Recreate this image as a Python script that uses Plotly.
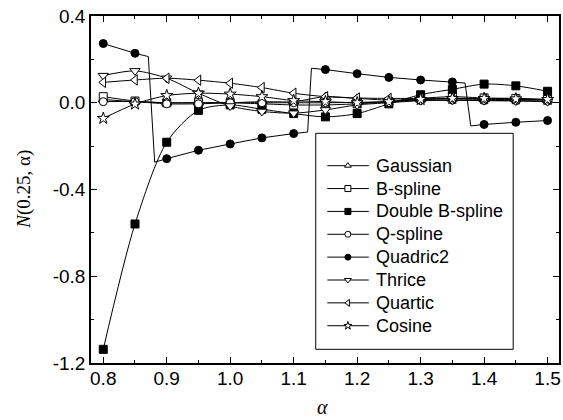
import plotly.graph_objects as go

alpha = [0.8, 0.85, 0.9, 0.95, 1.0, 1.05, 1.1, 1.15, 1.2, 1.25, 1.3, 1.35, 1.4, 1.45, 1.5]

gaussian = [0.015, 0.005, 0.0, 0.0, 0.0, 0.005, 0.005, 0.028, 0.02, 0.012, 0.015, 0.018, 0.015, 0.015, 0.012]
bspline = [0.028, 0.008, 0.0, 0.0, 0.0, -0.005, -0.01, -0.01, -0.005, 0.005, 0.02, 0.028, 0.022, 0.02, 0.015]
double_bspline = [-1.137, -0.559, -0.182, -0.035, -0.01, -0.03, -0.05, -0.065, -0.05, -0.005, 0.037, 0.062, 0.086, 0.078, 0.053]
qspline = [0.005, 0.005, -0.005, -0.005, 0.0, 0.0, 0.0, 0.0, 0.002, 0.005, 0.01, 0.012, 0.01, 0.01, 0.008]
quadric2 = [0.273, 0.228, -0.258, -0.219, -0.190, -0.162, -0.142, 0.153, 0.134, 0.117, 0.105, 0.096, -0.1, -0.09, -0.082]
thrice = [0.125, 0.147, 0.113, 0.044, -0.015, -0.04, -0.048, -0.033, -0.01, 0.0, 0.01, 0.012, 0.01, 0.008, 0.005]
quartic = [0.094, 0.105, 0.113, 0.104, 0.090, 0.070, 0.044, 0.028, 0.022, 0.02, 0.02, 0.02, 0.018, 0.016, 0.015]
cosine = [-0.072, -0.006, 0.033, 0.044, 0.04, 0.028, 0.01, 0.005, 0.0, 0.005, 0.015, 0.02, 0.02, 0.018, 0.015]

# Quadric2 connecting line (includes the jump segments)
quadric2_line_x = [0.8, 0.85, 0.871, 0.881, 0.9, 0.95, 1.0, 1.05, 1.1, 1.122, 1.128, 1.15, 1.2, 1.25, 1.3, 1.35, 1.370, 1.379, 1.4, 1.45, 1.5]
quadric2_line_y = [0.273, 0.228, 0.213, -0.274, -0.258, -0.219, -0.190, -0.162, -0.142, -0.135, 0.159, 0.153, 0.134, 0.117, 0.105, 0.096, 0.091, -0.107, -0.1, -0.09, -0.082]

names = ["Gaussian", "B-spline", "Double B-spline", "Q-spline", "Quadric2", "Thrice", "Quartic", "Cosine"]
series = [gaussian, bspline, double_bspline, qspline, quadric2, thrice, quartic, cosine]
symbols = ["triangle-up", "square", "square", "circle", "circle", "triangle-down", "triangle-left", "star"]
filled = [False, False, True, False, True, False, False, False]
sizes = [9, 8, 8, 8, 8, 9, 9, 9]

W, H = 563, 420
L, R, T, B = 91, 2, 16, 57
pw = W - L - R
ph = H - T - B

fig = go.Figure()

for name, ys, sym, fl, sz in zip(names, series, symbols, filled, sizes):
    mcol = "black" if fl else "white"
    if name == "Quadric2":
        fig.add_trace(go.Scatter(x=quadric2_line_x, y=quadric2_line_y, mode="lines",
                                 line=dict(color="black", width=1), showlegend=False, hoverinfo="skip"))
        fig.add_trace(go.Scatter(x=alpha, y=ys, mode="markers", name=name,
                                 marker=dict(symbol=sym, size=sz, color=mcol, line=dict(color="black", width=1)),
                                 showlegend=False))
    else:
        fig.add_trace(go.Scatter(x=alpha, y=ys, mode="lines+markers", name=name,
                                 line=dict(color="black", width=1, shape="spline", smoothing=0.8),
                                 marker=dict(symbol=sym, size=sz, color=mcol, line=dict(color="black", width=1)),
                                 showlegend=False))

# ---- hand-built legend on a pixel-coordinate overlay axis ----
leg_box = (316.7, 133.3, 515.0, 349.3)   # x0, y0, x1, y1 in page pixels
leg_y0, leg_dy = 165.7, 22.86
leg_line = (328.3, 370.0)
leg_marker_x = 349.0
leg_text_x = 375.5

leg_ys = [leg_y0 + i * leg_dy for i in range(len(names))]
shapes = [dict(type="rect", xref="x2", yref="y2", x0=leg_box[0], y0=leg_box[1], x1=leg_box[2], y1=leg_box[3],
               line=dict(color="black", width=1), fillcolor="white", layer="below")]
annotations = []
for i, (name, sym, fl) in enumerate(zip(names, symbols, filled)):
    yy = leg_ys[i]
    shapes.append(dict(type="line", xref="x2", yref="y2", x0=leg_line[0], x1=leg_line[1], y0=yy, y1=yy,
                       line=dict(color="black", width=1), layer="below"))
    annotations.append(dict(text=name, xref="x2", yref="y2", x=leg_text_x, y=yy, showarrow=False,
                            xanchor="left", yanchor="middle",
                            font=dict(family="Liberation Sans, Arial", size=18, color="black")))
    fig.add_trace(go.Scatter(x=[leg_marker_x], y=[yy], xaxis="x2", yaxis="y2", mode="markers",
                             marker=dict(symbol=sym, size=6, color="black" if fl else "white",
                                         line=dict(color="black", width=1)),
                             showlegend=False, hoverinfo="skip", cliponaxis=False))

yt = [-1.2, -0.8, -0.4, 0.0, 0.4]
ytext = ["-1.2", "-0.8", "-0.4", "0.0", "0.4"]
xt = [0.8, 0.9, 1.0, 1.1, 1.2, 1.3, 1.4, 1.5]
xtext = ["0.8", "0.9", "1.0", "1.1", "1.2", "1.3", "1.4", "1.5"]

axis_common = dict(showgrid=False, zeroline=False, showline=True, linecolor="black", linewidth=1.5,
                   mirror="ticks", ticks="inside", ticklen=6, tickwidth=1.2, tickcolor="black",
                   tickfont=dict(family="Liberation Sans, Arial", size=19, color="black"))

fig.update_layout(
    xaxis=dict(range=[0.7807, 1.518], tickvals=xt, ticktext=xtext, ticklabelstandoff=-3,
               minor=dict(ticks="inside", ticklen=3.5, tickwidth=1.2, tickcolor="black", dtick=0.05, tick0=0.8),
               **axis_common),
    yaxis=dict(range=[-1.2, 0.4], tickvals=yt, ticktext=ytext,
               minor=dict(ticks="inside", ticklen=3.5, tickwidth=1.2, tickcolor="black", dtick=0.2, tick0=0.0),
               **axis_common),
    xaxis2=dict(overlaying="x", range=[L, W - R], visible=False, fixedrange=True),
    yaxis2=dict(overlaying="y", range=[H - B, T], visible=False, fixedrange=True),
    width=W, height=H,
    margin=dict(l=L, r=R, t=T, b=B),
    paper_bgcolor="white", plot_bgcolor="white",
    showlegend=False,
    shapes=shapes,
    annotations=annotations + [
        dict(text="<i>α</i>", xref="paper", yref="paper", x=(323 - L) / pw, y=(H - B - 420) / ph,
             showarrow=False, xanchor="center", yanchor="bottom",
             font=dict(family="Liberation Serif, Times New Roman", size=20, color="black")),
        dict(text="<i>N</i>(0.25, α)", xref="paper", yref="paper", x=(23 - L) / pw, y=0.5,
             showarrow=False, xanchor="center", yanchor="middle", textangle=-90,
             font=dict(family="Liberation Serif, Times New Roman", size=19, color="black")),
    ],
)

fig.write_html("out.html")
